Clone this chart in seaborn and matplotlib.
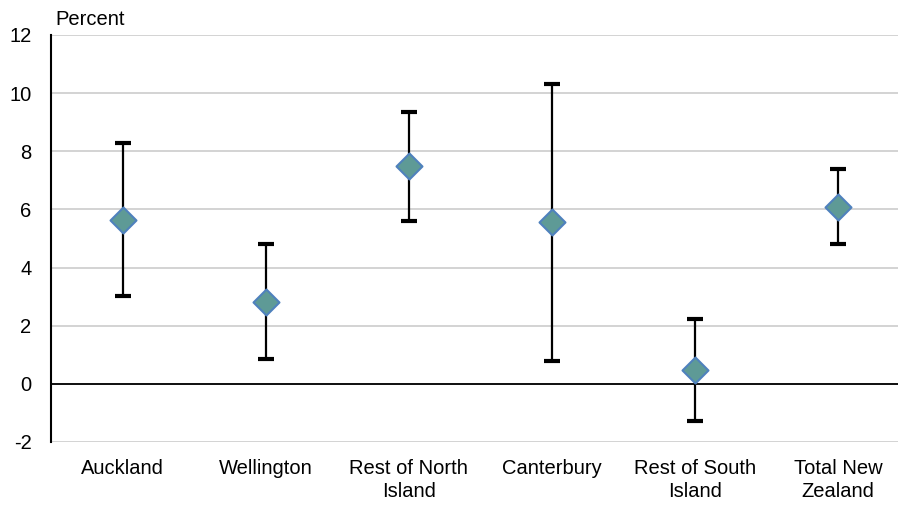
import matplotlib
matplotlib.use('Agg')
import matplotlib.pyplot as plt
import seaborn as sns
import pandas as pd

regions = ['Auckland', 'Wellington', 'Rest of North\nIsland', 'Canterbury',
           'Rest of South\nIsland', 'Total New\nZealand']
estimate = [5.65, 2.82, 7.48, 5.58, 0.48, 6.09]
upper = [8.28, 4.80, 9.36, 10.32, 2.24, 7.40]
lower = [3.03, 0.86, 5.61, 0.79, -1.27, 4.80]
y_ticks = [-2, 0, 2, 4, 6, 8, 10, 12]

data = pd.DataFrame({'region': regions, 'estimate': estimate,
                     'upper': upper, 'lower': lower})

sns.set_theme(style='white')
plt.rcParams['font.family'] = ['Liberation Sans', 'DejaVu Sans']
plt.rcParams['text.color'] = 'black'

fig = plt.figure(figsize=(9, 5.05), dpi=100)
ax = fig.add_axes([0.0567, 0.1248, 0.941, 0.806])

# grid lines
for t in y_ticks:
    ax.axhline(t, color='#D0D0D0', lw=1.3, zorder=0)
ax.axhline(0, color='black', lw=1.3, zorder=1)

# error bars
pos = list(range(len(data)))
ax.errorbar(pos, data['estimate'],
            yerr=[data['estimate'] - data['lower'], data['upper'] - data['estimate']],
            fmt='none', ecolor='black', elinewidth=1.6, capsize=5.5, capthick=3, zorder=2)

sns.scatterplot(x=pos, y=data['estimate'], marker='D', s=175,
                color='#5E9A96', edgecolor='#4F81BD', linewidth=1.5, zorder=3, ax=ax)

ax.set_xlim(-0.5, 5.42)
ax.set_ylim(-2, 12)
ax.set_yticks(y_ticks)
ax.set_yticklabels([str(t) for t in y_ticks])
ax.set_xticks(pos)
ax.set_xticklabels(data['region'], linespacing=1.3)
ax.tick_params(axis='both', length=0, labelsize=14.5, colors='black')
ax.tick_params(axis='x', pad=12)
ax.tick_params(axis='y', pad=14)
ax.set_xlabel('')
ax.set_ylabel('')

for s in ['top', 'right', 'bottom']:
    ax.spines[s].set_visible(False)
ax.spines['left'].set_color('black')
ax.spines['left'].set_linewidth(1.5)

fig.text(0.061, 0.962, 'Percent', fontsize=14.5, ha='left', va='center', color='black')

fig.savefig('out.png', dpi=100)
